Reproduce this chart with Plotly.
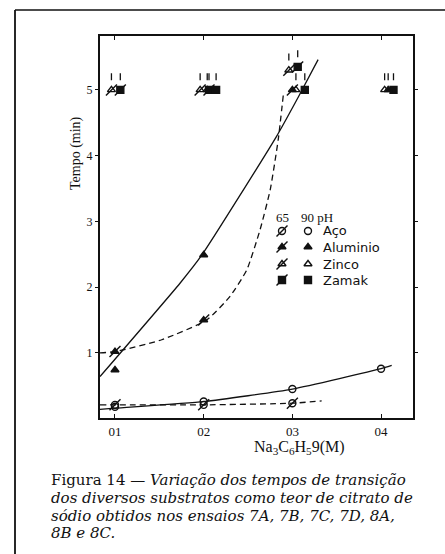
import plotly.graph_objects as go

W, H = 445, 554

# ---------------- data ----------------
conc = [0.1, 0.2, 0.3, 0.4]
x_ticklabels = ["01", "02", "03", "04"]
y_ticks = [1, 2, 3, 4, 5]

# Aço
aco90_y = [0.18, 0.26, 0.45, 0.76]
aco65_x = [0.1, 0.2, 0.3]
aco65_y = [0.21, 0.21, 0.235]
# Alumínio
al90_x = [0.1, 0.2]
al90_y = [0.74, 2.49]
al65_x = [0.1, 0.2, 0.3]
al65_y = [1.02, 1.5, 5.0]

# fitted curves
aco90_fit_x = [0.083, 0.1, 0.2, 0.3, 0.4, 0.412]
aco90_fit_y = [0.14, 0.16, 0.26, 0.45, 0.76, 0.81]
aco65_fit_x = [0.083, 0.1, 0.2, 0.3, 0.333]
aco65_fit_y = [0.21, 0.21, 0.21, 0.235, 0.27]
al90_fit_x = [0.0831, 0.1733, 0.198, 0.282, 0.307, 0.329]
al90_fit_y = [0.64, 2.06, 2.49, 4.29, 4.9, 5.46]
al65_fit_x = [0.0831, 0.1, 0.1527, 0.2034, 0.2297, 0.2485, 0.2635, 0.275, 0.284, 0.290]
al65_fit_y = [1.0, 1.02, 1.2, 1.5, 1.86, 2.26, 2.87, 3.48, 4.24, 4.95]

# times above 5 min (drawn at the top with arrows)
zn65_x = [0.1, 0.2, 0.3]
zn65_y = [5.0, 5.0, 5.3]
zm65_x = [0.1, 0.2, 0.3]
zm65_y = [5.0, 5.0, 5.35]
zn90_x = [0.2, 0.3, 0.4]
zn90_y = [5.0, 5.0, 5.0]
zm90_x = [0.2, 0.3, 0.4]
zm90_y = [5.0, 5.0, 5.0]
al90_hi_x = [0.4]
al90_hi_y = [5.0]

legend_names = ["Aço", "Aluminio", "Zinco", "Zamak"]

caption_lines = [
    "Figura 14 — <i>Variação dos tempos de transição</i>",
    "<i>dos diversos substratos como teor de citrato de</i>",
    "<i>sódio obtidos nos ensaios 7A, 7B, 7C, 7D, 8A,</i>",
    "<i>8B e 8C.</i>",
]

# ---------------- layout helpers ----------------
def px(x):
    return x / W

def py(y):
    return 1 - y / H

BLACK = "#111111"
SERIF = "Liberation Serif"
MS = 7

fig = go.Figure()

def curve(xs, ys, dash):
    fig.add_trace(go.Scatter(x=xs, y=ys, mode="lines",
                             line=dict(color=BLACK, width=1.3, dash=dash,
                                       shape="spline", smoothing=0.5),
                             hoverinfo="skip", showlegend=False))

def add_symbol(xs, ys, symbol, slashed, xaxis="x", yaxis="y"):
    fig.add_trace(go.Scatter(x=xs, y=ys, xaxis=xaxis, yaxis=yaxis, mode="markers",
                             marker=dict(symbol=symbol, size=MS, color=BLACK,
                                         line=dict(color=BLACK, width=1.4)),
                             hoverinfo="skip", showlegend=False))
    if slashed:
        fig.add_trace(go.Scatter(x=xs, y=ys, xaxis=xaxis, yaxis=yaxis, mode="markers",
                                 marker=dict(symbol="line-ne", size=MS + 4, color=BLACK,
                                             line=dict(color=BLACK, width=1.4)),
                                 hoverinfo="skip", showlegend=False))

def marks(xs, ys, symbol, slashed=False, dodge=0.0, arrows=False):
    xd = [v + dodge for v in xs]
    add_symbol(xd, ys, symbol, slashed)
    if arrows:
        fig.add_trace(go.Scatter(x=xd, y=[v + 0.2 for v in ys], mode="markers",
                                 marker=dict(symbol="line-ns", size=5, color=BLACK,
                                             line=dict(color=BLACK, width=1.3)),
                                 hoverinfo="skip", showlegend=False))

curve(aco90_fit_x, aco90_fit_y, "solid")
curve(aco65_fit_x, aco65_fit_y, "6px,4px")
curve(al90_fit_x, al90_fit_y, "solid")
curve(al65_fit_x, al65_fit_y, "6px,4px")

marks(conc, aco90_y, "circle-open")
marks(aco65_x, aco65_y, "circle-open", slashed=True)
marks(al90_x, al90_y, "triangle-up")
marks(al65_x, al65_y, "triangle-up", slashed=True)

marks(zn65_x, zn65_y, "triangle-up-open", slashed=True, dodge=-0.004, arrows=True)
marks(zm65_x, zm65_y, "square", slashed=True, dodge=0.006, arrows=True)
marks(zn90_x, zn90_y, "triangle-up-open", dodge=0.004, arrows=True)
marks(zm90_x, zm90_y, "square", dodge=0.014, arrows=True)
marks(al90_hi_x, al90_hi_y, "triangle-up", dodge=0.008, arrows=True)

# ---------------- legend (drawn on a full-figure pixel axis) ----------------
leg_rows_y = [231, 247, 264, 280]
sym_rows = ["circle-open", "triangle-up", "triangle-up-open", "square"]
for sym, yy in zip(sym_rows, leg_rows_y):
    add_symbol([282], [yy], sym, True, "x2", "y2")
    add_symbol([308], [yy], sym, False, "x2", "y2")

annotations = []
LEGF = dict(family="DejaVu Sans", size=13, color=BLACK)
annotations.append(dict(x=px(282), y=py(217), xref="paper", yref="paper", text="65",
                        showarrow=False, xanchor="center", yanchor="middle",
                        font=dict(family=SERIF, size=13, color=BLACK)))
annotations.append(dict(x=px(299), y=py(217), xref="paper", yref="paper", text="90 pH",
                        showarrow=False, xanchor="left", yanchor="middle",
                        font=dict(family=SERIF, size=13, color=BLACK)))
for name, yy in zip(legend_names, leg_rows_y):
    annotations.append(dict(x=px(321), y=py(yy), xref="paper", yref="paper", text=name,
                            showarrow=False, xanchor="left", yanchor="middle", font=LEGF))

# axis titles
annotations.append(dict(x=px(76), y=py(153), xref="paper", yref="paper", text="Tempo (min)",
                        textangle=-90, showarrow=False, xanchor="center", yanchor="middle",
                        font=dict(family=SERIF, size=14, color=BLACK)))
annotations.append(dict(x=px(299), y=py(447), xref="paper", yref="paper",
                        text="Na<sub>3</sub>C<sub>6</sub>H<sub>5</sub>9(M)",
                        showarrow=False, xanchor="center", yanchor="middle",
                        font=dict(family=SERIF, size=16, color=BLACK)))

# caption
for line, yy in zip(caption_lines, [480, 498, 516, 533]):
    annotations.append(dict(x=px(49), y=py(yy), xref="paper", yref="paper", text=line,
                            showarrow=False, xanchor="left", yanchor="middle",
                            font=dict(family="DejaVu Serif", size=15, color=BLACK)))

shapes = [
    dict(type="line", xref="paper", yref="paper", x0=px(15), x1=px(445), y0=py(10), y1=py(10),
         line=dict(color=BLACK, width=1.5)),
    dict(type="line", xref="paper", yref="paper", x0=px(15), x1=px(15), y0=py(10), y1=py(554),
         line=dict(color=BLACK, width=1.8)),
]

fig.update_layout(
    width=W, height=H, autosize=False,
    margin=dict(l=0, r=0, t=0, b=0),
    paper_bgcolor="white", plot_bgcolor="rgba(0,0,0,0)",
    showlegend=False,
    xaxis=dict(domain=[px(100), px(413)], range=[0.0831, 0.436],
               tickmode="array", tickvals=conc, ticktext=x_ticklabels,
               ticks="inside", ticklen=4, tickcolor=BLACK, tickwidth=1.3,
               showline=True, linecolor=BLACK, linewidth=2, mirror="ticks",
               showgrid=False, zeroline=False,
               tickfont=dict(family=SERIF, size=13, color=BLACK)),
    yaxis=dict(domain=[py(418), py(36)], range=[0.01, 5.82],
               tickmode="array", tickvals=y_ticks, ticktext=[str(v) for v in y_ticks],
               ticks="outside", ticklen=3, tickcolor=BLACK, tickwidth=1.3,
               showline=True, linecolor=BLACK, linewidth=2, mirror="ticks",
               showgrid=False, zeroline=False,
               tickfont=dict(family=SERIF, size=12, color=BLACK)),
    xaxis2=dict(domain=[0, 1], range=[0, W], anchor="y2", visible=False, fixedrange=True),
    yaxis2=dict(domain=[0, 1], range=[H, 0], anchor="x2", visible=False, fixedrange=True),
    annotations=annotations,
    shapes=shapes,
)

fig.write_html("out.html")
